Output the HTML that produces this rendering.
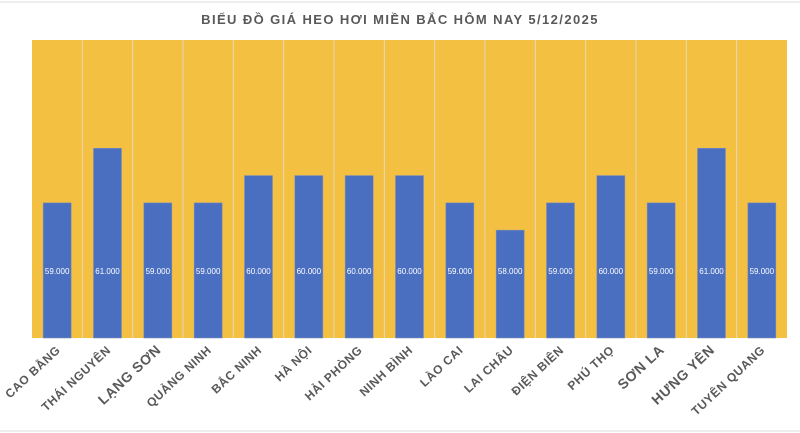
<!DOCTYPE html>
<html><head><meta charset="utf-8"><style>
html,body{margin:0;padding:0;background:#fff;width:800px;height:433px;overflow:hidden}
</style></head><body>
<svg width="800" height="433" xmlns="http://www.w3.org/2000/svg" font-family="Liberation Sans, DejaVu Sans, sans-serif">
<rect x="0" y="0" width="800" height="433" fill="#fff"/>
<line x1="0" y1="2" x2="800" y2="2" stroke="#ddd"/>
<line x1="0" y1="431" x2="800" y2="431" stroke="#ddd"/>
<text x="400" y="24" text-anchor="middle" font-size="13" font-weight="bold" fill="#595959" letter-spacing="1.4">BIỂU ĐỒ GIÁ HEO HƠI MIỀN BẮC HÔM NAY 5/12/2025</text>
<rect x="32" y="40" width="755" height="298" fill="#F3C041"/>
<g id="g"></g>
</svg>
<script>
const names=["CAO BẰNG","THÁI NGUYÊN","LẠNG SƠN","QUẢNG NINH","BẮC NINH","HÀ NỘI","HẢI PHÒNG","NINH BÌNH","LÀO CAI","LAI CHÂU","ĐIỆN BIÊN","PHÚ THỌ","SƠN LA","HƯNG YÊN","TUYÊN QUANG"];
const vals=[59,61,59,59,60,60,60,60,59,58,59,60,59,61,59];
const big=[2,12,13];
let s="";const w=755/15;
for(let i=0;i<15;i++){
 const x0=32+i*w, cx=x0+w/2;
 if(i>0) s+=`<line x1="${x0}" y1="40" x2="${x0}" y2="338" stroke="#E6D9B8" stroke-width="1"/>`;
 const top=338-(vals[i]-54.05)*27.3;
 s+=`<rect x="${cx-14}" y="${top}" width="28" height="${338-top}" fill="#4A6FC0" stroke="#7F8FB8" stroke-width="0.6"/>`;
 s+=`<text x="${cx}" y="274" text-anchor="middle" font-size="8" fill="#fff">${vals[i]}.000</text>`;
 const fs=big.includes(i)?14:12;
 s+=`<text transform="translate(${cx+4},351) rotate(-43)" text-anchor="end" font-size="${fs}" font-weight="bold" fill="#595959" letter-spacing="0.6">${names[i]}</text>`;
}
document.getElementById("g").innerHTML=s;
</script>
</body></html>
